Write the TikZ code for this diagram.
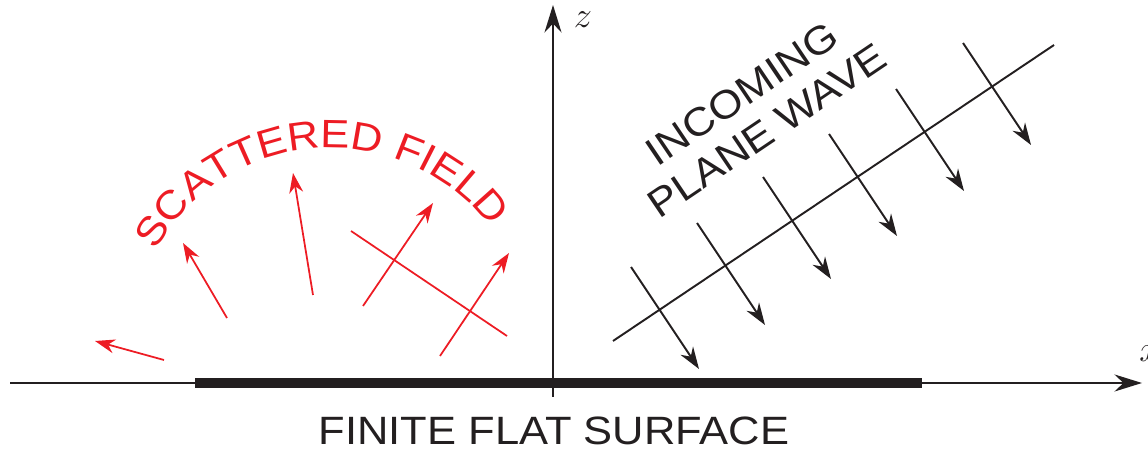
\documentclass[tikz,border=0pt]{standalone}
\usepackage{fontspec}
\newfontfamily\capsfont[FakeStretch=1.1]{Liberation Sans}
\usepackage{tikz}
\usetikzlibrary{arrows.meta, decorations.text}
\definecolor{scatred}{RGB}{237,28,36}
\definecolor{inkblack}{RGB}{35,31,32}
\newcommand{\wavefont}{\capsfont\fontsize{22.5}{25.5}\selectfont}

\begin{document}
\begin{tikzpicture}[
    x=0.02cm, y=0.02cm,
    axis/.style={-{Stealth[length=5.5mm, width=3.4mm]}, line width=1.2pt, draw=inkblack},
    wave/.style={-{Stealth[length=4.4mm, width=3mm]}, line width=1.1pt, draw=inkblack},
    scat/.style={-{Stealth[length=4mm, width=2.8mm]}, line width=1pt, draw=scatred},
    label/.style={inner sep=0pt, text=inkblack, font=\wavefont}
]
    \useasboundingbox (0,0) rectangle (1148,452);

    \coordinate (xstart) at (10,69);
    \coordinate (xend) at (1142,69);
    \coordinate (zstart) at (553,55);
    \coordinate (zend) at (553,447);
    \draw[axis] (xstart) -- (xend);
    \draw[axis] (zstart) -- (zend);
    \node[label, anchor=west] (xlab) at (1139,98) {$x$};
    \node[label] (zlab) at (583,432) {$z$};

    \draw[inkblack, line width=0.19cm] (195,69) -- (922,69);
    \node[label, anchor=base] (surface) at (554,7) {FINITE FLAT SURFACE};

    \path[decorate, decoration={text along path, text align=center,
        text={|\wavefont\color{scatred}|SCATTERED FIELD}}]
        (331,103) ++(158:201) arc[start angle=158, end angle=30, radius=201];
    \draw[scat] (164,92) -- (95,111);
    \draw[scat] (227,134) -- (183,209);
    \draw[scat] (313,157) -- (293,279);
    \draw[scat] (363,146) -- (433,249);
    \draw[scat] (440,96) -- (509,199);
    \draw[scat, -] (351,221) -- (507,116);

    \node[label, align=center, rotate=34] (incoming) at (754,340) {INCOMING\\PLANE WAVE};
    \draw[wave, -] (613,111) -- (1054,407);
    \draw[wave] (631,185) -- (699,83);
    \draw[wave] (697,229) -- (765,127);
    \draw[wave] (763,275) -- (831,173);
    \draw[wave] (829,318) -- (897,216);
    \draw[wave] (896,363) -- (964,261);
    \draw[wave] (963,409) -- (1031,307);
\end{tikzpicture}
\end{document}
